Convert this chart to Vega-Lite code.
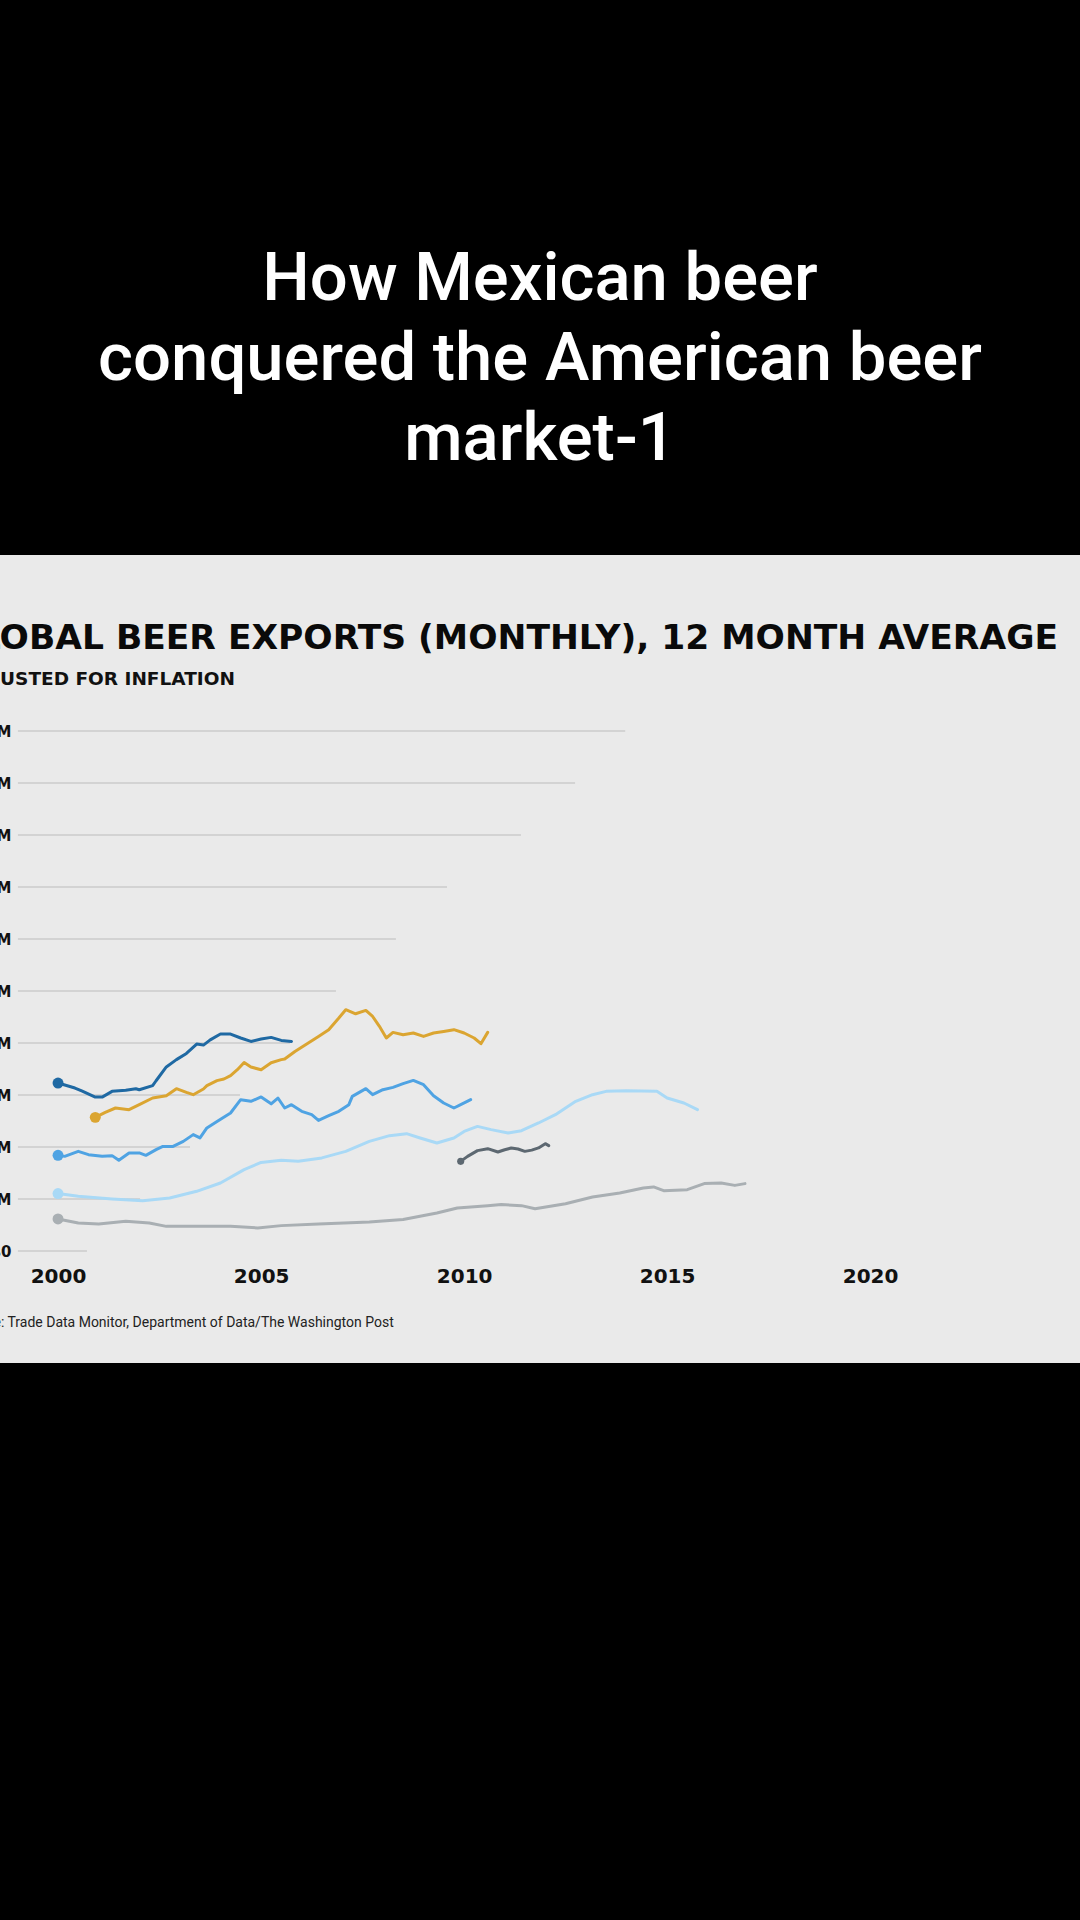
{
  "$schema": "https://vega.github.io/schema/vega-lite/v6.json",
  "width": 1080,
  "height": 808,
  "autosize": {"type": "none"},
  "padding": {"left": 0, "top": 555, "right": 0, "bottom": 557},
  "background": "#000000",
  "config": {"view": {"fill": "#eaeaea", "stroke": null}},
  "title": {
    "text": ["How Mexican beer", "conquered the American beer", "market-1"],
    "anchor": "middle",
    "frame": "group",
    "orient": "top",
    "color": "#ffffff",
    "font": "Roboto",
    "fontSize": 67,
    "fontWeight": 500,
    "lineHeight": 80,
    "offset": 81
  },
  "data": {
    "values": [
      {"series": "A", "date": "2000-01", "value": 161.5},
      {"series": "A", "date": "2000-06", "value": 156.7},
      {"series": "A", "date": "2000-08", "value": 154},
      {"series": "A", "date": "2000-12", "value": 148},
      {"series": "A", "date": "2001-02", "value": 148},
      {"series": "A", "date": "2001-05", "value": 153.5},
      {"series": "A", "date": "2001-09", "value": 154.5},
      {"series": "A", "date": "2001-12", "value": 156},
      {"series": "A", "date": "2002-01", "value": 155},
      {"series": "A", "date": "2002-05", "value": 159},
      {"series": "A", "date": "2002-06", "value": 163.7},
      {"series": "A", "date": "2002-09", "value": 177},
      {"series": "A", "date": "2002-12", "value": 184},
      {"series": "A", "date": "2003-03", "value": 190},
      {"series": "A", "date": "2003-06", "value": 199},
      {"series": "A", "date": "2003-08", "value": 198},
      {"series": "A", "date": "2003-10", "value": 203},
      {"series": "A", "date": "2004-01", "value": 208.6},
      {"series": "A", "date": "2004-04", "value": 208.6},
      {"series": "A", "date": "2004-07", "value": 204.8},
      {"series": "A", "date": "2004-10", "value": 201.5},
      {"series": "A", "date": "2005-01", "value": 203.8},
      {"series": "A", "date": "2005-04", "value": 205.4},
      {"series": "A", "date": "2005-07", "value": 202.5},
      {"series": "A", "date": "2005-10", "value": 201.5},

      {"series": "B", "date": "2000-12", "value": 128.5},
      {"series": "B", "date": "2001-03", "value": 133.3},
      {"series": "B", "date": "2001-06", "value": 137.5},
      {"series": "B", "date": "2001-10", "value": 135.9},
      {"series": "B", "date": "2002-01", "value": 140.7},
      {"series": "B", "date": "2002-05", "value": 147.1},
      {"series": "B", "date": "2002-09", "value": 149.3},
      {"series": "B", "date": "2002-12", "value": 156.1},
      {"series": "B", "date": "2003-03", "value": 152.5},
      {"series": "B", "date": "2003-05", "value": 150.3},
      {"series": "B", "date": "2003-08", "value": 155.8},
      {"series": "B", "date": "2003-09", "value": 159},
      {"series": "B", "date": "2003-12", "value": 163.8},
      {"series": "B", "date": "2004-02", "value": 165.4},
      {"series": "B", "date": "2004-04", "value": 168.6},
      {"series": "B", "date": "2004-06", "value": 174.3},
      {"series": "B", "date": "2004-08", "value": 181.3},
      {"series": "B", "date": "2004-10", "value": 176.9},
      {"series": "B", "date": "2005-01", "value": 174.3},
      {"series": "B", "date": "2005-04", "value": 181},
      {"series": "B", "date": "2005-07", "value": 184},
      {"series": "B", "date": "2005-08", "value": 184.6},
      {"series": "B", "date": "2005-11", "value": 191.9},
      {"series": "B", "date": "2006-03", "value": 200},
      {"series": "B", "date": "2006-06", "value": 206.3},
      {"series": "B", "date": "2006-09", "value": 212.8},
      {"series": "B", "date": "2006-12", "value": 224},
      {"series": "B", "date": "2007-02", "value": 232},
      {"series": "B", "date": "2007-05", "value": 228.1},
      {"series": "B", "date": "2007-08", "value": 231.3},
      {"series": "B", "date": "2007-10", "value": 225.5},
      {"series": "B", "date": "2007-12", "value": 216},
      {"series": "B", "date": "2008-02", "value": 204.8},
      {"series": "B", "date": "2008-04", "value": 210.2},
      {"series": "B", "date": "2008-07", "value": 208},
      {"series": "B", "date": "2008-10", "value": 209.6},
      {"series": "B", "date": "2009-01", "value": 206.3},
      {"series": "B", "date": "2009-04", "value": 209.6},
      {"series": "B", "date": "2009-07", "value": 211.1},
      {"series": "B", "date": "2009-10", "value": 212.8},
      {"series": "B", "date": "2010-01", "value": 209.6},
      {"series": "B", "date": "2010-04", "value": 204.8},
      {"series": "B", "date": "2010-06", "value": 199.3},
      {"series": "B", "date": "2010-08", "value": 210.2},

      {"series": "C", "date": "2000-01", "value": 92},
      {"series": "C", "date": "2000-03", "value": 91},
      {"series": "C", "date": "2000-07", "value": 95.8},
      {"series": "C", "date": "2000-10", "value": 92.6},
      {"series": "C", "date": "2001-02", "value": 91},
      {"series": "C", "date": "2001-05", "value": 91.7},
      {"series": "C", "date": "2001-07", "value": 87.2},
      {"series": "C", "date": "2001-10", "value": 94.3},
      {"series": "C", "date": "2002-01", "value": 94.3},
      {"series": "C", "date": "2002-03", "value": 92},
      {"series": "C", "date": "2002-06", "value": 97.5},
      {"series": "C", "date": "2002-08", "value": 100.6},
      {"series": "C", "date": "2002-11", "value": 100.6},
      {"series": "C", "date": "2003-02", "value": 105.4},
      {"series": "C", "date": "2003-05", "value": 111.9},
      {"series": "C", "date": "2003-07", "value": 108.7},
      {"series": "C", "date": "2003-09", "value": 118.3},
      {"series": "C", "date": "2003-12", "value": 124.6},
      {"series": "C", "date": "2004-04", "value": 132.7},
      {"series": "C", "date": "2004-07", "value": 145.5},
      {"series": "C", "date": "2004-10", "value": 143.9},
      {"series": "C", "date": "2005-01", "value": 148.1},
      {"series": "C", "date": "2005-04", "value": 141.5},
      {"series": "C", "date": "2005-06", "value": 147.1},
      {"series": "C", "date": "2005-08", "value": 137.5},
      {"series": "C", "date": "2005-10", "value": 140.7},
      {"series": "C", "date": "2006-01", "value": 134.3},
      {"series": "C", "date": "2006-04", "value": 131.1},
      {"series": "C", "date": "2006-06", "value": 125.6},
      {"series": "C", "date": "2006-09", "value": 130.1},
      {"series": "C", "date": "2006-12", "value": 134.3},
      {"series": "C", "date": "2007-03", "value": 140.7},
      {"series": "C", "date": "2007-04", "value": 148.7},
      {"series": "C", "date": "2007-08", "value": 156.1},
      {"series": "C", "date": "2007-10", "value": 150.3},
      {"series": "C", "date": "2008-01", "value": 155.1},
      {"series": "C", "date": "2008-04", "value": 157.3},
      {"series": "C", "date": "2008-07", "value": 160.9},
      {"series": "C", "date": "2008-10", "value": 164},
      {"series": "C", "date": "2009-01", "value": 159.9},
      {"series": "C", "date": "2009-04", "value": 149.3},
      {"series": "C", "date": "2009-07", "value": 142.3},
      {"series": "C", "date": "2009-10", "value": 137.5},
      {"series": "C", "date": "2009-12", "value": 140.7},
      {"series": "C", "date": "2010-03", "value": 145.5},

      {"series": "D", "date": "2000-01", "value": 55.2},
      {"series": "D", "date": "2000-07", "value": 52.6},
      {"series": "D", "date": "2001-05", "value": 50.1},
      {"series": "D", "date": "2002-02", "value": 48.4},
      {"series": "D", "date": "2002-10", "value": 51},
      {"series": "D", "date": "2003-06", "value": 57.4},
      {"series": "D", "date": "2004-01", "value": 65.4},
      {"series": "D", "date": "2004-08", "value": 78.2},
      {"series": "D", "date": "2005-01", "value": 85.2},
      {"series": "D", "date": "2005-07", "value": 87.2},
      {"series": "D", "date": "2005-12", "value": 86.2},
      {"series": "D", "date": "2006-07", "value": 89.5},
      {"series": "D", "date": "2007-02", "value": 95.8},
      {"series": "D", "date": "2007-09", "value": 105.4},
      {"series": "D", "date": "2008-03", "value": 110.9},
      {"series": "D", "date": "2008-08", "value": 112.8},
      {"series": "D", "date": "2008-12", "value": 108.7},
      {"series": "D", "date": "2009-05", "value": 103.9},
      {"series": "D", "date": "2009-10", "value": 108.7},
      {"series": "D", "date": "2010-01", "value": 115},
      {"series": "D", "date": "2010-05", "value": 119.8},
      {"series": "D", "date": "2010-09", "value": 116.7},
      {"series": "D", "date": "2011-02", "value": 113.5},
      {"series": "D", "date": "2011-06", "value": 115.7},
      {"series": "D", "date": "2011-11", "value": 123.1},
      {"series": "D", "date": "2012-04", "value": 131.1},
      {"series": "D", "date": "2012-10", "value": 143.9},
      {"series": "D", "date": "2013-03", "value": 150.3},
      {"series": "D", "date": "2013-07", "value": 153.5},
      {"series": "D", "date": "2014-01", "value": 154.2},
      {"series": "D", "date": "2014-10", "value": 153.5},
      {"series": "D", "date": "2015-01", "value": 147.1},
      {"series": "D", "date": "2015-06", "value": 142.3},
      {"series": "D", "date": "2015-10", "value": 135.9},

      {"series": "E", "date": "2009-12", "value": 86.2},
      {"series": "E", "date": "2010-02", "value": 91},
      {"series": "E", "date": "2010-05", "value": 96.5},
      {"series": "E", "date": "2010-08", "value": 98.4},
      {"series": "E", "date": "2010-11", "value": 95.2},
      {"series": "E", "date": "2011-01", "value": 97.4},
      {"series": "E", "date": "2011-03", "value": 99},
      {"series": "E", "date": "2011-05", "value": 98.1},
      {"series": "E", "date": "2011-07", "value": 95.8},
      {"series": "E", "date": "2011-09", "value": 97},
      {"series": "E", "date": "2011-11", "value": 99.1},
      {"series": "E", "date": "2012-01", "value": 103.2},
      {"series": "E", "date": "2012-02", "value": 101.3},

      {"series": "F", "date": "2000-01", "value": 30.8},
      {"series": "F", "date": "2000-07", "value": 27},
      {"series": "F", "date": "2001-01", "value": 26},
      {"series": "F", "date": "2001-09", "value": 28.5},
      {"series": "F", "date": "2002-04", "value": 27},
      {"series": "F", "date": "2002-09", "value": 23.7},
      {"series": "F", "date": "2003-06", "value": 23.7},
      {"series": "F", "date": "2004-04", "value": 23.7},
      {"series": "F", "date": "2004-12", "value": 22.2},
      {"series": "F", "date": "2005-07", "value": 24.4},
      {"series": "F", "date": "2006-06", "value": 26},
      {"series": "F", "date": "2007-09", "value": 28},
      {"series": "F", "date": "2008-07", "value": 30.2},
      {"series": "F", "date": "2009-05", "value": 36.6},
      {"series": "F", "date": "2009-11", "value": 41.4},
      {"series": "F", "date": "2010-08", "value": 43.6},
      {"series": "F", "date": "2010-12", "value": 44.6},
      {"series": "F", "date": "2011-06", "value": 43.6},
      {"series": "F", "date": "2011-10", "value": 40.7},
      {"series": "F", "date": "2012-07", "value": 45.5},
      {"series": "F", "date": "2013-03", "value": 52},
      {"series": "F", "date": "2013-11", "value": 55.8},
      {"series": "F", "date": "2014-06", "value": 60.6},
      {"series": "F", "date": "2014-09", "value": 61.6},
      {"series": "F", "date": "2014-12", "value": 58},
      {"series": "F", "date": "2015-07", "value": 59},
      {"series": "F", "date": "2015-12", "value": 64.8},
      {"series": "F", "date": "2016-05", "value": 65.4},
      {"series": "F", "date": "2016-09", "value": 63.1},
      {"series": "F", "date": "2016-12", "value": 64.8}
    ]
  },
  "encoding": {
    "x": {
      "field": "date",
      "type": "temporal",
      "scale": {"domain": [{"year": 1998, "month": 7, "date": 28}, {"year": 2025, "month": 3, "date": 3}]},
      "axis": {
        "values": [{"year": 2000}, {"year": 2005}, {"year": 2010}, {"year": 2015}, {"year": 2020}],
        "format": "%Y",
        "grid": false,
        "ticks": false,
        "domain": false,
        "offset": -112,
        "labelFont": "DejaVu Sans",
        "labelFontWeight": "bold",
        "labelFontSize": 20,
        "labelColor": "#111111",
        "labelPadding": 15,
        "title": "Source: Trade Data Monitor, Department of Data/The Washington Post",
        "titleFont": "Roboto",
        "titleFontWeight": "normal",
        "titleFontSize": 14,
        "titleColor": "#222222",
        "titleAlign": "left",
        "titleBaseline": "alphabetic",
        "titleX": -43,
        "titleY": 75
      }
    }
  },
  "layer": [
    {
      "data": {
        "values": [
          {"value": 0, "date": "1999-01-05", "date2": "2000-09-17"},
          {"value": 50, "date": "1999-01-05", "date2": "2002-01-08"},
          {"value": 100, "date": "1999-01-05", "date2": "2003-04-02"},
          {"value": 150, "date": "1999-01-05", "date2": "2004-06-25"},
          {"value": 200, "date": "1999-01-05", "date2": "2005-09-17"},
          {"value": 250, "date": "1999-01-05", "date2": "2006-11-05"},
          {"value": 300, "date": "1999-01-05", "date2": "2008-04-27"},
          {"value": 350, "date": "1999-01-05", "date2": "2009-07-31"},
          {"value": 400, "date": "1999-01-05", "date2": "2011-05-27"},
          {"value": 450, "date": "1999-01-05", "date2": "2012-09-25"},
          {"value": 500, "date": "1999-01-05", "date2": "2013-12-20"}
        ]
      },
      "mark": {"type": "rule", "strokeWidth": 2, "color": "#d3d3d3"},
      "encoding": {
        "x2": {"field": "date2"},
        "y": {
          "field": "value",
          "type": "quantitative",
          "scale": {"domain": [0, 500], "range": [696, 176], "nice": false},
          "axis": {
            "values": [0, 50, 100, 150, 200, 250, 300, 350, 400, 450, 500],
            "labelExpr": "datum.value == 0 ? '$0' : '$' + datum.value + 'M'",
            "grid": false,
            "ticks": false,
            "domain": false,
            "labelAlign": "right",
            "labelBaseline": "middle",
            "labelPadding": -11,
            "labelFont": "DejaVu Sans",
            "labelFontWeight": "bold",
            "labelFontSize": 15,
            "labelColor": "#111111",
            "title": "GLOBAL BEER EXPORTS (MONTHLY), 12 MONTH AVERAGE",
            "titleAngle": 0,
            "titleAlign": "left",
            "titleBaseline": "alphabetic",
            "titleX": -50,
            "titleY": 93,
            "titleFont": "DejaVu Sans",
            "titleFontWeight": "bold",
            "titleFontSize": 34.5,
            "titleColor": "#0a0a0a"
          }
        }
      }
    },
    {
      "mark": {"type": "line", "strokeWidth": 3, "strokeJoin": "round", "strokeCap": "round"},
      "encoding": {
        "y": {"field": "value", "type": "quantitative", "axis": null},
        "color": {
          "field": "series",
          "type": "nominal",
          "scale": {"domain": ["A", "B", "C", "D", "E", "F"], "range": ["#1f69a3", "#dba531", "#4fa3e3", "#a9d9f6", "#5d6871", "#a9afb3"]},
          "legend": null
        }
      }
    },
    {
      "transform": [
        {"window": [{"op": "row_number", "as": "rn"}], "sort": [{"field": "date", "order": "ascending"}], "groupby": ["series"]},
        {"filter": "datum.rn == 1"}
      ],
      "mark": {"type": "point", "filled": true, "opacity": 1},
      "encoding": {
        "y": {
          "field": "value",
          "type": "quantitative",
          "axis": {
            "orient": "right",
            "labels": false,
            "ticks": false,
            "domain": false,
            "grid": false,
            "title": "ADJUSTED FOR INFLATION",
            "titleAngle": 0,
            "titleAlign": "left",
            "titleBaseline": "alphabetic",
            "titleX": -1117,
            "titleY": 129,
            "titleFont": "DejaVu Sans",
            "titleFontWeight": "bold",
            "titleFontSize": 18.5,
            "titleColor": "#111111"
          }
        },
        "color": {"field": "series", "type": "nominal", "legend": null},
        "size": {"condition": {"test": "datum.series == 'E'", "value": 50}, "value": 120}
      }
    }
  ],
  "resolve": {"axis": {"y": "independent"}}
}
